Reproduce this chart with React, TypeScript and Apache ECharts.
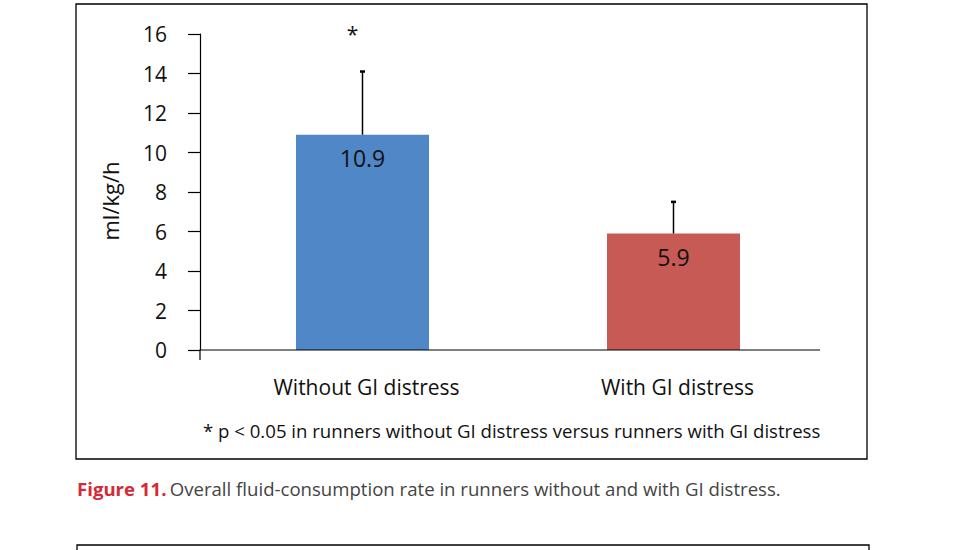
import React, { useEffect, useRef } from "react";
import * as echarts from "echarts";

const categories = ["Without GI distress", "With GI distress"];
const means = [10.9, 5.9];
const errorUpper = [3.2, 1.6];
const significance = ["*", ""];
const yMin = 0;
const yMax = 16;
const yInterval = 2;
const yTitle = "ml/kg/h";
const footnote = "* p < 0.05 in runners without GI distress versus runners with GI distress";
const captionLabel = "Figure 11.";
const captionText = "Overall fluid-consumption rate in runners without and with GI distress.";
const barColors = ["#5087c6", "#c75a54"];

const FONT = "'Open Sans', 'Noto Sans', sans-serif";

export default function App() {
  const ref = useRef<HTMLDivElement>(null);
  useEffect(() => {
    if (!ref.current) return;
    const chart = echarts.init(ref.current, undefined, { renderer: "svg" });
    const option: any = {
      animation: false,
      backgroundColor: "#ffffff",
      textStyle: { fontFamily: FONT },
      grid: { left: 207, top: 34, width: 622, bottom: 200, containLabel: false },
      xAxis: {
        type: "category",
        data: categories,
        axisLine: { show: false },
        axisTick: { show: false },
        axisLabel: {
          color: "#111",
          fontSize: 21,
          margin: 26,
          fontFamily: FONT,
          padding: [0, 0, 0, 8],
        },
        splitLine: { show: false },
      },
      yAxis: {
        type: "value",
        min: yMin,
        max: yMax,
        interval: yInterval,
        offset: 7,
        name: yTitle,
        nameLocation: "middle",
        nameRotate: 90,
        nameGap: 79,
        nameTextStyle: { color: "#111", fontSize: 22, fontFamily: FONT, padding: [0, 18, 0, 0] },
        axisLine: { show: true, lineStyle: { color: "#000", width: 1.2 } },
        axisTick: { show: true, length: 12, lineStyle: { color: "#000", width: 1.2 } },
        axisLabel: { color: "#111", fontSize: 21, margin: 33, fontFamily: FONT },
        splitLine: { show: false },
      },
      series: [
        {
          type: "bar",
          data: means.map((v, i) => ({ value: v, itemStyle: { color: barColors[i] } })),
          barWidth: 133,
          label: {
            show: true,
            position: "insideTop",
            distance: 12,
            color: "#111",
            fontSize: 23,
            fontFamily: FONT,
            formatter: (p: any) => String(p.value),
          },
          z: 2,
        },
        {
          type: "custom",
          data: means.map((v, i) => [i, v, errorUpper[i]]),
          z: 5,
          renderItem: (params: any, api: any) => {
            const idx = api.value(0);
            const v = api.value(1);
            const e = api.value(2);
            const base = api.coord([idx, v]);
            const top = api.coord([idx, v + e]);
            const star = api.coord([idx, yMax]);
            const children: any[] = [
              {
                type: "line",
                shape: { x1: base[0], y1: base[1], x2: top[0], y2: top[1] },
                style: { stroke: "#000", lineWidth: 1.5 },
              },
              {
                type: "line",
                shape: { x1: top[0] - 2.5, y1: top[1], x2: top[0] + 2.5, y2: top[1] },
                style: { stroke: "#000", lineWidth: 2.5 },
              },
            ];
            const s = significance[params.dataIndex];
            if (s) {
              children.push({
                type: "text",
                x: star[0] - 10,
                y: star[1],
                style: {
                  text: s,
                  fill: "#111",
                  fontSize: 21,
                  fontFamily: FONT,
                  align: "center",
                  verticalAlign: "middle",
                },
              });
            }
            return { type: "group", children };
          },
        },
      ],
      graphic: [
        {
          type: "polyline",
          shape: { points: [[200, 360], [200, 350], [820, 350]] },
          style: { fill: "none", stroke: "#000", lineWidth: 1.2 },
          silent: true,
          z: 10,
        },
        {
          type: "rect",
          shape: { x: 76, y: 4, width: 791, height: 455 },
          style: { fill: "none", stroke: "#000", lineWidth: 1.3 },
          silent: true,
        },
        {
          type: "rect",
          shape: { x: 77, y: 545, width: 792, height: 40 },
          style: { fill: "none", stroke: "#000", lineWidth: 1.3 },
          silent: true,
        },
        {
          type: "text",
          left: 203,
          top: 421,
          style: { text: footnote, fill: "#111", fontSize: 18.6, fontFamily: FONT },
        },
        {
          type: "text",
          left: 77,
          top: 479,
          style: {
            text: `{r|${captionLabel}} {n|${captionText}}`,
            rich: {
              r: { fill: "#d42a35", fontSize: 18.6, fontWeight: "bold", fontFamily: FONT },
              n: { fill: "#444", fontSize: 18.6, fontFamily: FONT },
            },
          },
        },
      ],
    };
    chart.setOption(option);
    return () => chart.dispose();
  }, []);
  return (
    <div
      ref={ref}
      style={{ position: "fixed", left: 0, top: 0, width: 958, height: 550, background: "#fff" }}
    />
  );
}
